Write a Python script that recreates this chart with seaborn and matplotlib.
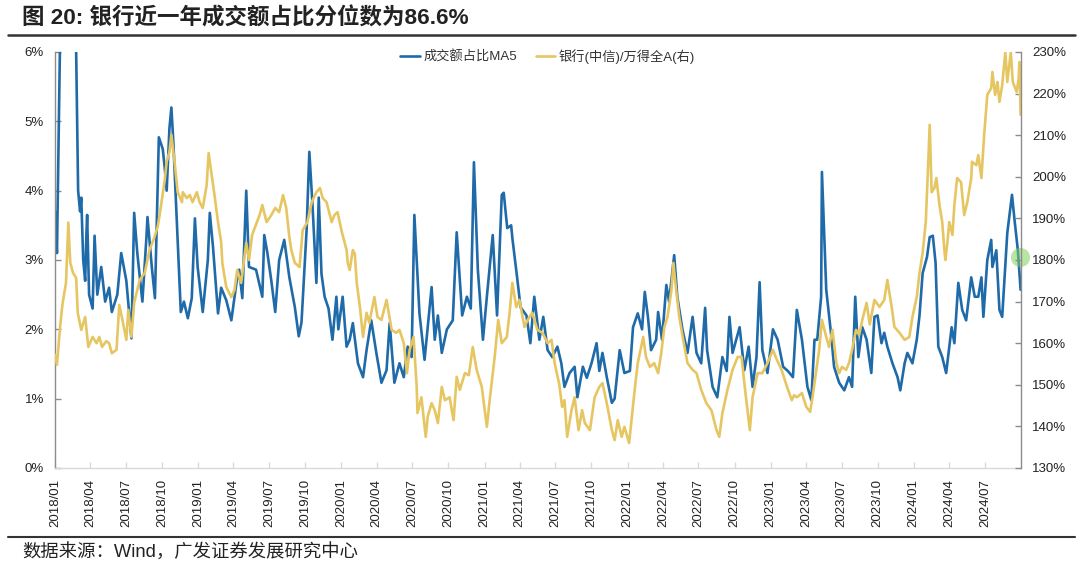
import matplotlib
matplotlib.use("Agg")
import matplotlib.pyplot as plt
from matplotlib.lines import Line2D
from matplotlib.ticker import FuncFormatter
import seaborn as sns
import pandas as pd

# ---------------- data ----------------
title_text = "图 20: 银行近一年成交额占比分位数为86.6%"
source_text = "数据来源：Wind，广发证券发展研究中心"
series_names = ["成交额占比MA5", "银行(中信)/万得全A(右)"]

share_dates = [
    "2018-01-01", "2018-01-06", "2018-01-11", "2018-01-16", "2018-01-29", "2018-02-14", "2018-02-24", "2018-03-01",
    "2018-03-06", "2018-03-09", "2018-03-14", "2018-03-19", "2018-03-22", "2018-03-24", "2018-03-29", "2018-04-07",
    "2018-04-12", "2018-04-19", "2018-04-29", "2018-05-09", "2018-05-19", "2018-05-26", "2018-06-09", "2018-06-19",
    "2018-07-02", "2018-07-15", "2018-07-22", "2018-07-30", "2018-08-12", "2018-08-22", "2018-08-25", "2018-09-05",
    "2018-09-13", "2018-09-23", "2018-10-03", "2018-10-08", "2018-10-13", "2018-10-20", "2018-10-25", "2018-10-30",
    "2018-11-08", "2018-11-18", "2018-11-26", "2018-12-06", "2018-12-16", "2018-12-24", "2018-12-31",
    "2019-01-13", "2019-01-26", "2019-01-31", "2019-02-08", "2019-02-21", "2019-03-01", "2019-03-14", "2019-03-27",
    "2019-04-09", "2019-04-16", "2019-04-24", "2019-05-04", "2019-05-11", "2019-05-29", "2019-06-14", "2019-06-19",
    "2019-06-27", "2019-07-07", "2019-07-17", "2019-07-27", "2019-08-09", "2019-08-22", "2019-09-05", "2019-09-15",
    "2019-09-22", "2019-10-05", "2019-10-12", "2019-10-20", "2019-10-30", "2019-11-05", "2019-11-12", "2019-11-20",
    "2019-11-30", "2019-12-10", "2019-12-20", "2019-12-25",
    "2020-01-05", "2020-01-15", "2020-01-23", "2020-01-31", "2020-02-13", "2020-02-26", "2020-03-06", "2020-03-18",
    "2020-03-31", "2020-04-13", "2020-04-26", "2020-05-04", "2020-05-16", "2020-05-29", "2020-06-09", "2020-06-19",
    "2020-06-29", "2020-07-06", "2020-07-19", "2020-08-01", "2020-08-19", "2020-08-27", "2020-09-04", "2020-09-14",
    "2020-09-27", "2020-10-12", "2020-10-22", "2020-11-05", "2020-11-17", "2020-11-27", "2020-12-05", "2020-12-15",
    "2020-12-28",
    "2021-01-07", "2021-01-22", "2021-02-02", "2021-02-14", "2021-02-19", "2021-02-28", "2021-03-10", "2021-03-13",
    "2021-03-26", "2021-04-03", "2021-04-18", "2021-04-28", "2021-05-08", "2021-05-21", "2021-05-31", "2021-06-11",
    "2021-06-23", "2021-07-06", "2021-07-16", "2021-07-24", "2021-08-06", "2021-08-19", "2021-08-26", "2021-09-09",
    "2021-09-19", "2021-10-01", "2021-10-14", "2021-10-21", "2021-10-29", "2021-11-09", "2021-11-22", "2021-11-29",
    "2021-12-12", "2021-12-24",
    "2022-01-07", "2022-01-15", "2022-01-27", "2022-02-07", "2022-02-14", "2022-02-22", "2022-03-02", "2022-03-15",
    "2022-03-20", "2022-03-30", "2022-04-10", "2022-04-17", "2022-04-30", "2022-05-08", "2022-05-21", "2022-06-03",
    "2022-06-16", "2022-06-26", "2022-07-08", "2022-07-18", "2022-07-23", "2022-08-06", "2022-08-18", "2022-08-31",
    "2022-09-11", "2022-09-18", "2022-09-26", "2022-10-14", "2022-10-26", "2022-11-06", "2022-11-16", "2022-11-26",
    "2022-12-04", "2022-12-11", "2022-12-24",
    "2023-01-07", "2023-01-19", "2023-02-02", "2023-02-14", "2023-02-27", "2023-03-09", "2023-03-22", "2023-04-05",
    "2023-04-15", "2023-04-23", "2023-04-30", "2023-05-10", "2023-05-12", "2023-05-23", "2023-06-05", "2023-06-12",
    "2023-06-25", "2023-07-08", "2023-07-20", "2023-07-28", "2023-08-05", "2023-08-13", "2023-08-23", "2023-09-03",
    "2023-09-15", "2023-09-23", "2023-10-01", "2023-10-11", "2023-10-18", "2023-10-26", "2023-11-08", "2023-11-21",
    "2023-11-28", "2023-12-09", "2023-12-16", "2023-12-29",
    "2024-01-09", "2024-01-16", "2024-01-24", "2024-02-04", "2024-02-11", "2024-02-19", "2024-02-26", "2024-03-04",
    "2024-03-14", "2024-03-24", "2024-04-07", "2024-04-14", "2024-04-24", "2024-05-04", "2024-05-14", "2024-05-27",
    "2024-06-05", "2024-06-14", "2024-06-22", "2024-06-27", "2024-07-07", "2024-07-17", "2024-07-20", "2024-07-30",
    "2024-08-07", "2024-08-14", "2024-08-27", "2024-09-08", "2024-09-15", "2024-09-23", "2024-09-30",
]
share_ma5 = [
    3.7, 3.1, 5.0, 7.0, 8.0, 7.5, 6.0, 4.0,
    3.7, 3.9, 3.0, 2.7, 3.35, 3.65, 2.5, 2.3,
    3.35, 2.5, 2.9, 2.4, 2.6, 2.25, 2.5, 3.1,
    2.7, 1.87, 3.68, 3.1, 2.4, 3.3, 3.62, 2.9,
    2.45, 4.77, 4.6, 4.33, 4.0, 4.9, 5.2, 4.7,
    3.55, 2.25, 2.4, 2.16, 2.45, 3.6, 2.9,
    2.25, 3.0, 3.68, 3.2, 2.23, 2.6, 2.42, 2.13,
    2.67, 2.86, 2.45, 4.0, 2.9, 2.86, 2.47, 3.36,
    3.1, 2.7, 2.25, 3.0, 3.29, 2.75, 2.32, 1.9,
    2.1, 3.43, 4.56, 3.8, 2.67, 3.9, 2.8, 2.47,
    2.3, 1.85, 2.47, 2.0,
    2.47, 1.75, 1.85, 2.09, 1.51, 1.31, 1.7, 2.13,
    1.66, 1.23, 1.41, 2.09, 1.23, 1.51, 1.31, 1.75,
    1.6, 3.65, 2.23, 1.56, 2.61, 1.85, 2.2, 1.66,
    2.0, 2.13, 3.4, 2.2, 2.47, 2.3, 4.41, 2.86,
    1.85,
    2.47, 3.36, 2.2, 3.94, 3.97, 3.46, 3.5, 3.32,
    2.71, 2.32, 2.2, 1.8, 2.47, 1.85, 2.18, 1.7,
    1.6, 1.75, 1.51, 1.17, 1.37, 1.46, 1.02, 1.46,
    1.3, 1.51, 1.8, 1.4, 1.66, 1.31, 0.94, 1.0,
    1.7, 1.37,
    1.4, 2.03, 2.23, 2.0, 2.54, 2.18, 1.7, 1.85,
    2.25, 1.85, 2.64, 2.4, 3.07, 2.47, 2.0, 1.66,
    2.18, 1.66, 1.51, 2.31, 1.7, 1.17, 1.02, 1.6,
    1.4, 2.18, 1.66, 2.03, 1.41, 1.75, 1.17, 1.6,
    2.68, 1.7, 1.37,
    2.0, 1.85, 1.46, 1.4, 1.31, 2.28, 1.85, 1.17,
    0.98, 1.85, 1.85, 2.47, 4.27, 2.57, 1.9, 1.46,
    1.23, 1.12, 1.31, 1.17, 2.47, 1.6, 2.03, 1.85,
    1.37, 2.18, 2.2, 1.8, 1.95, 1.75, 1.51, 1.31,
    1.12, 1.51, 1.66, 1.51,
    1.85, 2.2, 2.81, 3.04, 3.33, 3.35, 2.96, 1.75,
    1.6, 1.37, 2.03, 1.8, 2.67, 2.28, 2.13, 2.75,
    2.47, 2.47, 2.75, 2.18, 3.0, 3.29, 2.9, 3.14,
    2.28, 2.18, 3.39, 3.94, 3.55, 3.14, 2.57,
]

ratio_dates = [
    "2018-01-01", "2018-01-06", "2018-01-14", "2018-01-19", "2018-01-21", "2018-01-29", "2018-02-04", "2018-02-09",
    "2018-02-16", "2018-02-24", "2018-02-28", "2018-03-09", "2018-03-19", "2018-03-27", "2018-04-07", "2018-04-17",
    "2018-04-24", "2018-05-01", "2018-05-12", "2018-05-19", "2018-05-26", "2018-06-07", "2018-06-14", "2018-06-22",
    "2018-07-02", "2018-07-07", "2018-07-15", "2018-07-22", "2018-08-05", "2018-08-18", "2018-08-30", "2018-09-10",
    "2018-09-20", "2018-09-25", "2018-10-08", "2018-10-13", "2018-10-20", "2018-10-25", "2018-11-03", "2018-11-10",
    "2018-11-21", "2018-11-23", "2018-12-03", "2018-12-11", "2018-12-18", "2018-12-29",
    "2019-01-05", "2019-01-13", "2019-01-23", "2019-01-28", "2019-02-06", "2019-02-13", "2019-02-21", "2019-03-01",
    "2019-03-04", "2019-03-14", "2019-03-27", "2019-04-04", "2019-04-11", "2019-04-21", "2019-05-04", "2019-05-11",
    "2019-05-19", "2019-06-07", "2019-06-14", "2019-06-25", "2019-07-07", "2019-07-17", "2019-07-27", "2019-08-06",
    "2019-08-14", "2019-08-22", "2019-08-27", "2019-09-05", "2019-09-17", "2019-09-25", "2019-10-07", "2019-10-18",
    "2019-10-30", "2019-11-08", "2019-11-15", "2019-11-25", "2019-12-08", "2019-12-15", "2019-12-23",
    "2020-01-03", "2020-01-15", "2020-01-18", "2020-01-23", "2020-01-31", "2020-02-05", "2020-02-10", "2020-02-18",
    "2020-02-26", "2020-03-06", "2020-03-13", "2020-03-26", "2020-04-03", "2020-04-13", "2020-04-26", "2020-05-09",
    "2020-05-21", "2020-05-29", "2020-06-09", "2020-06-17", "2020-06-24", "2020-07-04", "2020-07-12", "2020-07-14",
    "2020-07-24", "2020-08-04", "2020-08-09", "2020-08-19", "2020-08-27", "2020-09-04", "2020-09-14", "2020-09-22",
    "2020-10-04", "2020-10-14", "2020-10-22", "2020-10-30", "2020-11-12", "2020-11-22", "2020-12-02", "2020-12-12",
    "2020-12-25",
    "2021-01-07", "2021-01-15", "2021-01-27", "2021-02-05", "2021-02-14", "2021-02-27", "2021-03-06", "2021-03-13",
    "2021-03-23", "2021-03-31", "2021-04-13", "2021-04-21", "2021-05-03", "2021-05-16", "2021-05-29", "2021-06-11",
    "2021-06-21", "2021-06-29", "2021-07-11", "2021-07-18", "2021-07-24", "2021-07-31", "2021-08-11", "2021-08-19",
    "2021-08-29", "2021-09-07", "2021-09-14", "2021-09-27", "2021-10-09", "2021-10-21", "2021-10-29", "2021-11-09",
    "2021-11-22", "2021-11-29", "2021-12-07", "2021-12-17", "2021-12-24",
    "2022-01-05", "2022-01-12", "2022-01-20", "2022-01-27", "2022-02-10", "2022-02-17", "2022-02-27", "2022-03-10",
    "2022-03-20", "2022-03-28", "2022-04-05", "2022-04-13", "2022-04-23", "2022-04-28", "2022-05-05", "2022-05-13",
    "2022-05-23", "2022-06-03", "2022-06-16", "2022-06-26", "2022-07-08", "2022-07-21", "2022-08-03", "2022-08-16",
    "2022-08-23", "2022-08-31", "2022-09-13", "2022-09-26", "2022-10-09", "2022-10-19", "2022-10-26", "2022-11-09",
    "2022-11-16", "2022-11-29", "2022-12-11", "2022-12-24",
    "2023-01-07", "2023-01-17", "2023-01-29", "2023-02-12", "2023-02-24", "2023-03-02", "2023-03-09", "2023-03-22",
    "2023-04-02", "2023-04-12", "2023-04-18", "2023-04-28", "2023-05-05", "2023-05-12", "2023-05-23", "2023-05-30",
    "2023-06-08", "2023-06-18", "2023-06-25", "2023-07-02", "2023-07-13", "2023-07-20", "2023-07-28", "2023-08-07",
    "2023-08-15", "2023-08-23", "2023-09-03", "2023-09-11", "2023-09-23", "2023-10-06", "2023-10-18", "2023-10-26",
    "2023-11-06", "2023-11-13", "2023-11-26", "2023-12-09", "2023-12-21", "2023-12-29",
    "2024-01-09", "2024-01-16", "2024-01-24", "2024-02-01", "2024-02-06", "2024-02-11", "2024-02-16", "2024-02-23",
    "2024-02-28", "2024-03-07", "2024-03-14", "2024-03-19", "2024-03-22", "2024-03-27", "2024-04-01", "2024-04-09",
    "2024-04-14", "2024-04-21", "2024-05-01", "2024-05-09", "2024-05-17", "2024-05-27", "2024-05-29", "2024-06-09",
    "2024-06-14", "2024-06-22", "2024-06-29", "2024-07-07", "2024-07-17", "2024-07-20", "2024-07-27", "2024-08-02",
    "2024-08-07", "2024-08-14", "2024-08-22", "2024-08-27", "2024-09-05", "2024-09-10", "2024-09-20", "2024-09-25",
    "2024-09-27", "2024-09-30",
]
bank_vs_a_ratio = [
    157.2, 154.8, 163.9, 168.5, 169.9, 174.5, 189.0, 179.3,
    176.9, 175.7, 167.3, 163.2, 166.3, 159.1, 161.5, 160.0,
    161.5, 159.1, 160.5, 160.0, 157.6, 158.4, 169.2, 165.6,
    160.8, 168.0, 161.5, 169.7, 175.2, 176.9, 182.4, 185.0,
    188.0, 190.8, 199.2, 203.6, 206.0, 210.1, 202.8, 196.3,
    193.9, 196.3, 194.9, 195.6, 193.9, 196.3,
    193.9, 192.5, 198.0, 205.7, 199.7, 194.9, 189.1, 184.3,
    179.3, 173.5, 171.1, 172.8, 177.6, 174.5, 184.1, 180.0,
    186.0, 190.8, 193.2, 189.1, 190.8, 192.5, 191.5, 195.6,
    192.5, 185.5, 182.4, 179.3, 178.3, 187.2, 189.1, 193.9,
    196.3, 197.3, 194.9, 193.9, 189.1, 190.8, 191.5,
    186.7, 182.4, 179.3, 177.6, 182.4, 181.5, 174.5, 168.7,
    161.5, 167.3, 164.9, 171.1, 166.3, 165.6, 170.4, 163.2,
    162.5, 163.2, 160.0, 152.8, 158.4, 161.5, 149.5, 143.2,
    147.0, 137.5, 142.3, 145.6, 143.9, 140.8, 149.5, 146.3,
    147.0, 141.5, 151.9, 148.8, 152.8, 152.3, 159.1, 153.6,
    149.5,
    139.9, 147.0, 156.7, 165.6, 160.0, 161.5, 167.3, 174.5,
    168.7, 170.4, 163.9, 165.6, 167.3, 163.2, 162.5, 160.0,
    160.8, 155.2, 150.0, 144.7, 146.3, 137.5, 143.9, 147.0,
    139.1, 143.9, 140.8, 139.1, 147.0, 149.5, 150.4, 145.6,
    139.1, 136.7, 141.5, 137.5, 139.9,
    136.0, 142.3, 149.5, 155.2, 161.5, 156.7, 154.3, 155.2,
    152.8, 157.6, 163.9, 166.3, 172.8, 179.3, 172.8, 166.3,
    160.8, 155.2, 153.6, 152.8, 148.8, 145.6, 143.9, 139.1,
    137.5, 143.2, 148.8, 153.6, 156.7, 156.7, 150.4, 139.1,
    147.0, 152.8, 152.8, 155.2,
    158.4, 156.0, 153.6, 149.5, 146.3, 147.5, 147.0, 148.0,
    144.7, 143.5, 147.0, 153.6, 158.4, 165.6, 161.5, 159.1,
    163.2, 155.2, 152.8, 154.3, 153.6, 155.2, 158.4, 163.2,
    162.0, 165.6, 169.7, 164.5, 170.4, 168.7, 170.4, 175.2,
    168.7, 163.9, 162.5, 160.8, 161.5, 166.3,
    171.1, 176.9, 181.7, 189.1, 200.4, 212.5, 196.3, 197.3,
    199.7, 193.2, 189.1, 182.9, 180.0, 184.0, 189.1, 186.0,
    193.2, 199.7, 198.7, 190.8, 193.9, 199.7, 203.6, 202.8,
    205.2, 199.7, 210.1, 219.7, 221.3, 225.2, 219.7, 222.8,
    218.0, 222.0, 230.0, 222.8, 230.0, 222.8, 220.4, 223.7,
    227.6, 214.9,
]

highlight_date = "2024-09-28"
highlight_share = 3.05

left_ticks = [0, 1, 2, 3, 4, 5, 6]
right_ticks = [130, 140, 150, 160, 170, 180, 190, 200, 210, 220, 230]
x_start, x_end = "2018-01-01", "2024-10-01"
tick_dates = pd.date_range("2018-01-01", "2024-07-01", freq="3MS")

# ---------------- style ----------------
BLUE = "#1f6aa8"
GOLD = "#e6c662"
GREY = "#8c8c8c"

sns.set_theme(style="white")
plt.rcParams["font.family"] = ["Liberation Sans", "Noto Sans CJK SC", "DejaVu Sans"]

share_df = pd.DataFrame({"date": pd.to_datetime(share_dates), "share": share_ma5})
ratio_df = pd.DataFrame({"date": pd.to_datetime(ratio_dates), "ratio": bank_vs_a_ratio})

fig = plt.figure(figsize=(10.8, 5.72), dpi=100)
ax = fig.add_axes([55 / 1080, 1 - 468 / 572, (1021 - 55) / 1080, (468 - 52) / 572])

sns.lineplot(data=share_df, x="date", y="share", ax=ax, color=BLUE, linewidth=1.9,
             label=series_names[0])
ax2 = ax.twinx()
sns.lineplot(data=ratio_df, x="date", y="ratio", ax=ax2, color=GOLD, linewidth=1.9,
             label=series_names[1])
ax.scatter(pd.to_datetime([highlight_date]), [highlight_share], s=190, color="#7fcf5a",
           alpha=0.55, zorder=10, clip_on=False, linewidths=0)

ax.set_xlim(pd.Timestamp(x_start), pd.Timestamp(x_end))
ax.set_ylim(0, 6)
ax2.set_ylim(130, 230)
ax.set_yticks(left_ticks)
ax2.set_yticks(right_ticks)
ax.yaxis.set_major_formatter(FuncFormatter(lambda v, p: f"{v:.0f}%"))
ax2.yaxis.set_major_formatter(FuncFormatter(lambda v, p: f"{v:.0f}%"))
ax.set_xticks(tick_dates)
ax.set_xticklabels([d.strftime("%Y/%m") for d in tick_dates], rotation=90)
ax.set_xlabel("")
ax.set_ylabel("")
ax2.set_ylabel("")
ax.grid(False)
ax2.grid(False)

for a in (ax, ax2):
    a.spines["top"].set_visible(False)
ax.spines["right"].set_visible(False)
ax2.spines["left"].set_visible(False)
ax2.spines["bottom"].set_visible(False)
ax.spines["left"].set_color(GREY)
ax2.spines["right"].set_color(GREY)
ax.spines["bottom"].set_color("#d9d9d9")
for s in (ax.spines["left"], ax2.spines["right"], ax.spines["bottom"]):
    s.set_linewidth(1.0)

ax.tick_params(axis="y", left=True, direction="in", length=4, width=1, color=GREY,
               labelsize=9.5, labelcolor="#222222", pad=8)
ax2.tick_params(axis="y", right=True, direction="in", length=4, width=1, color=GREY,
                labelsize=9.5, labelcolor="#222222", pad=8)
ax.tick_params(axis="x", bottom=True, direction="in", length=4, width=1, color="#d9d9d9",
               labelsize=9.5, labelcolor="#222222", pad=8)

# combined legend
ax.get_legend().remove()
handles = [Line2D([0], [0], color=BLUE, lw=1.9), Line2D([0], [0], color=GOLD, lw=1.9)]
ax2.legend(handles, series_names, loc="center", bbox_to_anchor=(0.51, 0.99), ncol=2,
           frameon=False, fontsize=9.5, handlelength=1.5, handletextpad=0.25,
           columnspacing=1.4, labelcolor="#333333")

# title, rules and source
fig.text(22 / 1080, 1 - 18 / 572, title_text, fontsize=16.2, fontweight="bold",
         ha="left", va="center", color="#222222")
fig.add_artist(Line2D([8 / 1080, 1075 / 1080], [1 - 35 / 572] * 2, color="#333333", lw=1.8))
fig.add_artist(Line2D([8 / 1080, 1075 / 1080], [1 - 537 / 572] * 2, color="#333333", lw=1.5))
fig.text(22 / 1080, 1 - 553 / 572, source_text, fontsize=13.2, ha="left", va="center",
         color="#222222")

fig.savefig("out.png", dpi=100)
